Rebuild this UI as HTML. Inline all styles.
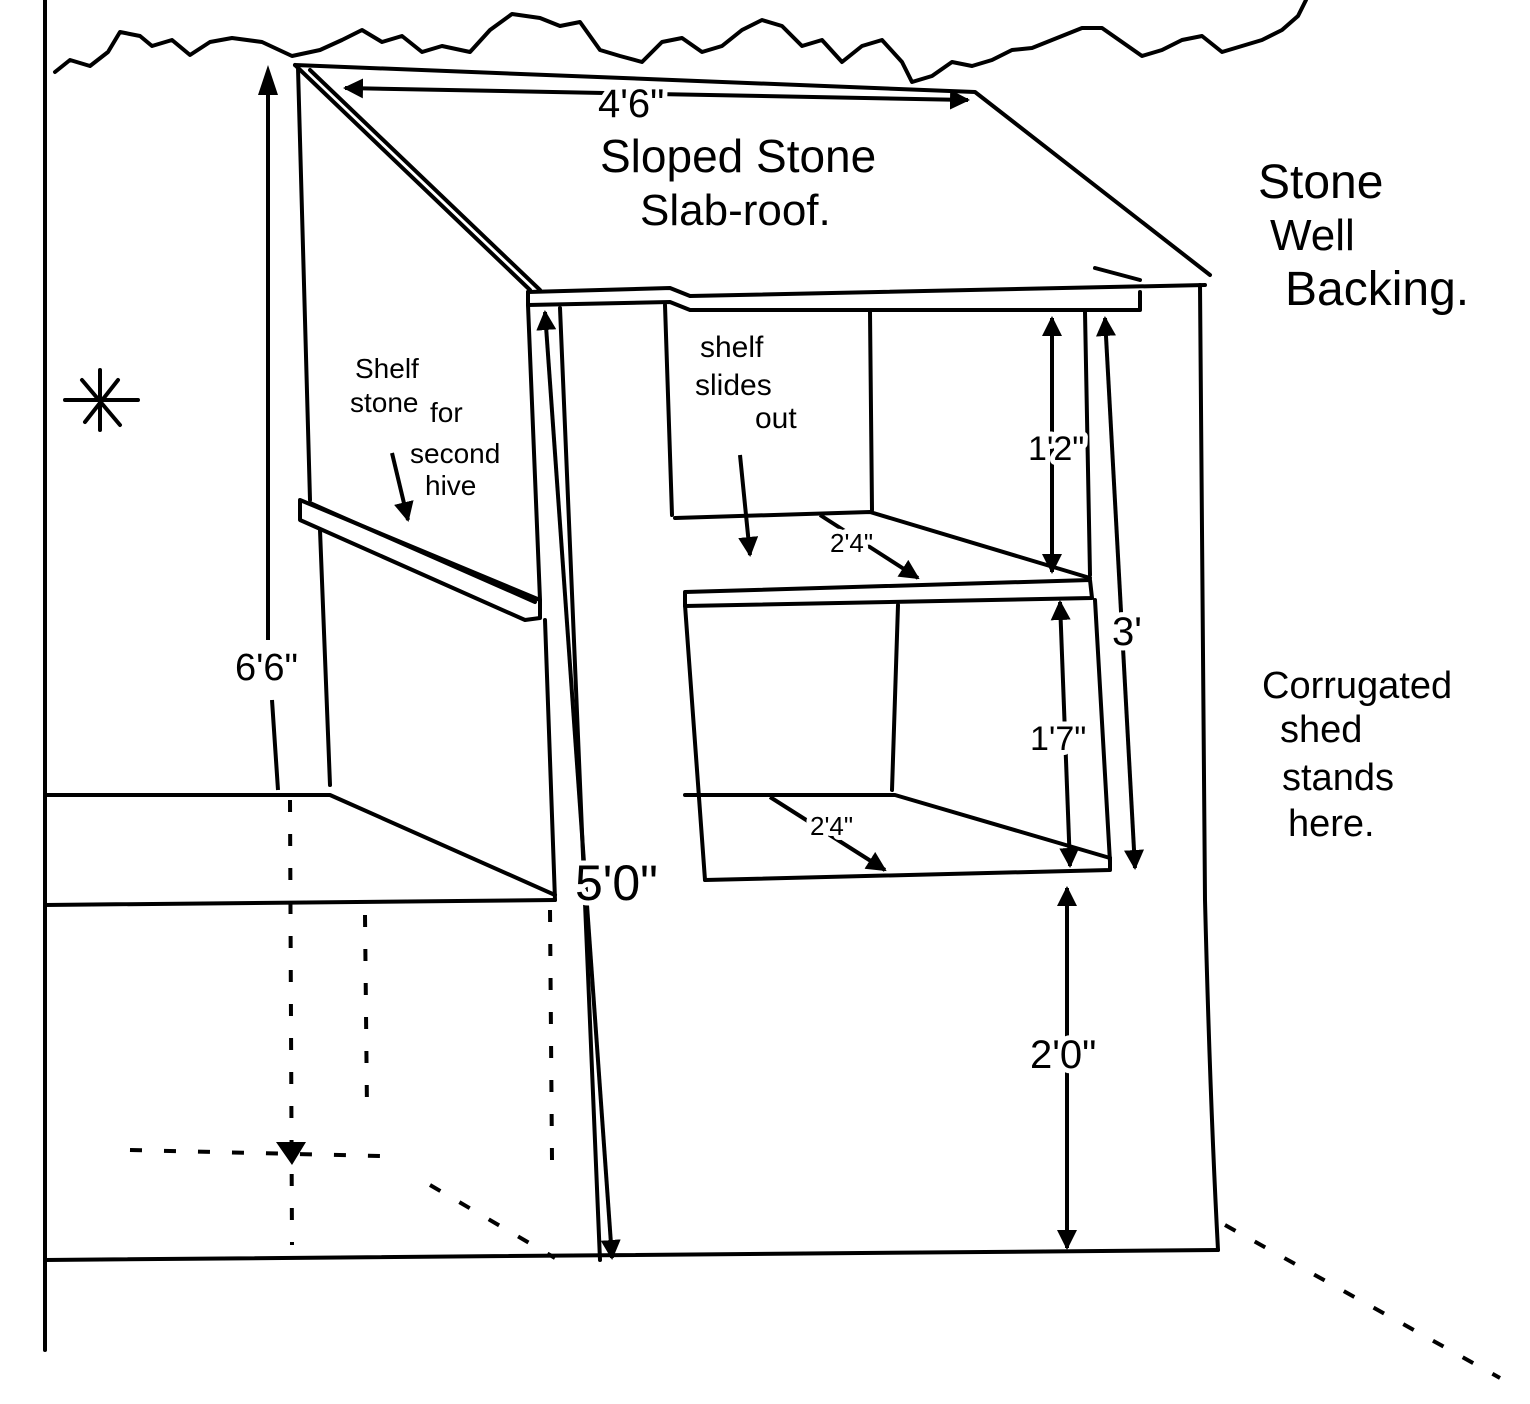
<!DOCTYPE html>
<html><head><meta charset="utf-8"><style>
html,body{margin:0;padding:0;background:#fff}
svg{display:block}
text{font-family:"Liberation Sans",sans-serif;fill:#000}
.w{stroke:#fff;stroke-width:10px;paint-order:stroke;stroke-linejoin:round}
</style></head><body>
<svg width="1530" height="1404" viewBox="0 0 1530 1404" xmlns="http://www.w3.org/2000/svg">
<defs>
<marker id="a" viewBox="0 0 10 10" refX="9" refY="5" markerWidth="5" markerHeight="5" orient="auto-start-reverse"><path d="M0,0L10,5L0,10z" fill="#000"/></marker>
</defs>
<g fill="none" stroke="#000" stroke-width="4" stroke-linecap="round" stroke-linejoin="round">
<path d="M45,0 L45,1350"/>
<path d="M55,72 L70,60 90,66 108,52 120,32 140,36 152,46 172,40 190,55 210,42 232,38 262,42 292,56 320,50 342,40 362,30 382,42 402,36 422,52 442,46 470,52 490,30 512,14 540,18 560,26 580,22 600,50 620,56 642,62 662,42 682,38 702,52 722,46 742,30 762,20 782,26 802,46 822,40 842,62 862,46 882,40 902,62 912,82 932,76 952,62 972,66 992,60 1012,50 1032,48 1052,40 1082,28 1102,28 1122,42 1142,56 1162,50 1182,40 1202,36 1222,52 1242,46 1262,40 1282,30 1298,16 1306,0"/>
<path d="M295,65 L975,92 L1210,275"/>
<path d="M295,65 L530,290"/>
<path d="M310,70 L540,290"/>
<path d="M528,292 L670,288 L690,296 L1205,285"/>
<path d="M528,292 L528,305 L670,302 L690,310 L1140,310 L1140,292"/>
<path d="M1095,268 L1140,280"/>
<path d="M298,68 L310,500"/>
<path d="M320,530 Q325,650 330,785"/>
<path d="M300,500 L540,600 L540,618 L525,620 L300,520 Z"/>
<path d="M310,503 L535,602"/>
<path d="M528,305 L540,600"/>
<path d="M545,620 L555,900"/>
<path d="M560,308 L600,1260"/>
<path d="M665,305 L672,515"/>
<path d="M685,605 L705,880"/>
<path d="M1200,285 L1205,900 Q1210,1100 1218,1250"/>
<path d="M870,312 L872,510"/>
<path d="M1085,312 L1090,575"/>
<path d="M1095,600 L1110,862"/>
<path d="M675,518 L870,512 L1090,578"/>
<path d="M685,592 L1090,580 L1092,598 L685,606 Z"/>
<path d="M898,605 L892,790"/>
<path d="M685,795 L895,795 L1110,858"/>
<path d="M705,880 L1110,870 L1110,858"/>
<path d="M45,795 L330,795 L555,895"/>
<path d="M45,905 L555,900"/>
<path d="M45,1260 L1218,1250"/>
<path d="M65,400 L138,400 M100,370 L100,430 M82,380 L120,425 M118,380 L85,422"/>
</g>
<g fill="none" stroke="#000" stroke-width="4" stroke-dasharray="12,22">
<path d="M290,800 L292,1245"/>
<path d="M365,915 L367,1110"/>
<path d="M550,910 L552,1160"/>
<path d="M130,1150 L380,1156"/>
<path d="M430,1185 L555,1258"/>
<path d="M1225,1225 L1500,1378"/>
</g>
<g fill="none" stroke="#000" stroke-width="4" marker-start="url(#a)" marker-end="url(#a)">
<path d="M345,88 L968,100"/>
<path d="M1052,318 L1052,572"/>
<path d="M1105,318 L1135,868"/>
<path d="M1060,602 L1070,866"/>
<path d="M1067,888 L1067,1248"/>
<path d="M545,312 L612,1258"/>
<path d="M820,515 L918,578" marker-start="none"/>
<path d="M770,797 L885,870" marker-start="none"/>
<path d="M740,455 L750,555" marker-start="none"/>
<path d="M392,453 L408,520" marker-start="none"/>
</g>
<path d="M268,75 L268,640 M272,700 L278,790" fill="none" stroke="#000" stroke-width="4"/>
<path d="M268,65 L258,95 L278,95 Z M276,1142 L306,1142 L292,1165 Z" fill="#000"/>
<g font-size="40">
<text class="w" x="598" y="117">4'6"</text>
<text x="600" y="172" font-size="46">Sloped Stone</text>
<text x="640" y="225" font-size="44">Slab-roof.</text>
<text x="1258" y="198" font-size="48">Stone</text>
<text x="1270" y="250" font-size="44">Well</text>
<text x="1285" y="305" font-size="48">Backing.</text>
<text x="355" y="378" font-size="28">Shelf</text>
<text x="350" y="412" font-size="28">stone</text>
<text x="430" y="422" font-size="28">for</text>
<text x="410" y="463" font-size="28">second</text>
<text x="425" y="495" font-size="28">hive</text>
<text x="700" y="357" font-size="30">shelf</text>
<text x="695" y="395" font-size="30">slides</text>
<text x="755" y="428" font-size="30">out</text>
<text class="w" x="1028" y="460" font-size="34">1'2"</text>
<text class="w" x="1112" y="645" font-size="40">3'</text>
<text class="w" x="1030" y="750" font-size="34">1'7"</text>
<text x="235" y="680" font-size="38">6'6"</text>
<text class="w" x="575" y="900" font-size="50">5'0"</text>
<text class="w" x="1030" y="1068" font-size="40">2'0"</text>
<text class="w" x="830" y="552" font-size="26">2'4"</text>
<text class="w" x="810" y="835" font-size="26">2'4"</text>
<text x="1262" y="698" font-size="38">Corrugated</text>
<text x="1280" y="742" font-size="38">shed</text>
<text x="1282" y="790" font-size="38">stands</text>
<text x="1288" y="836" font-size="38">here.</text>
</g>
</svg>
</body></html>
